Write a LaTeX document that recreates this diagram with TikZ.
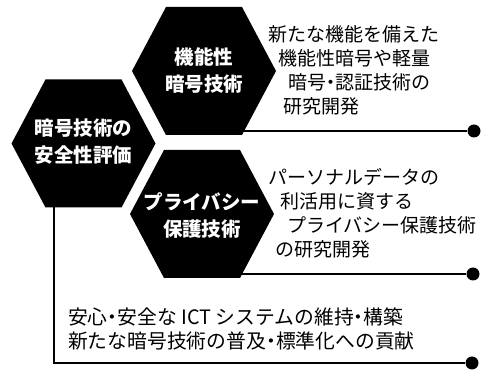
\documentclass[tikz,border=0pt]{standalone}
\usepackage{fontspec}
\setmainfont{Noto Sans CJK JP}
\usetikzlibrary{backgrounds,calc}
\newcommand{\nd}{\makebox[0.5em]{・}}
\newcommand{\hexpath}[1]{%
  \fill[black] ($(#1)+(-72,0)$) -- ($(#1)+(-38,-64)$) -- ($(#1)+(38,-64)$) --
    ($(#1)+(72,0)$) -- ($(#1)+(38,64)$) -- ($(#1)+(-38,64)$) -- cycle;}
\tikzset{
  hexlabel/.style={text=white, inner sep=0pt, align=center,
    font=\fontsize{19.5}{27}\selectfont\bfseries},
  desc/.style={anchor=base west, inner sep=0pt, font=\fontsize{19}{24}\selectfont},
  desclarge/.style={desc, font=\fontsize{19.8}{24}\selectfont},
  dotn/.style={circle, fill=black, minimum size=13pt, inner sep=0pt},
  link/.style={line width=1.6pt, black}
}
\begin{document}
\begin{tikzpicture}[x=1pt,y=-1pt]
\useasboundingbox (0,0) rectangle (483,387);

\coordinate (c1) at (204,71);
\coordinate (c2) at (83.5,143.5);
\coordinate (c3) at (202,214);
\hexpath{c1}
\hexpath{c2}
\hexpath{c3}

\node[hexlabel] (h1) at (c1) {機能性\\暗号技術};
\node[hexlabel] (h2) at ($(c2)+(0,-2)$) {暗号技術の\\安全性評価};
\node[hexlabel] (h3) at ($(c3)+(0,2)$) {プライバシー\\保護技術};

\node[dotn] (d1) at (474,131) {};
\node[dotn] (d2) at (473,274) {};
\node[dotn] (d3) at (472,363) {};

\coordinate (v3) at ($(c2)+(-29.5,0)$);
\begin{scope}[on background layer]
  \draw[link] (c1 |- d1) -- (d1);
  \draw[link] (c3 |- d2) -- (d2);
  \draw[link] (v3) |- (d3);
\end{scope}

\node[desc] (t1a) at (268,42) {新たな機能を備えた};
\node[desc] (t1b) at (278,66) {機能性暗号や軽量};
\node[desc] (t1c) at (288,90) {暗号\nd 認証技術の};
\node[desc] (t1d) at (283,114) {研究開発};

\node[desc] (t2a) at (268,185) {パーソナルデータの};
\node[desc] (t2b) at (280,209) {利活用に資する};
\node[desc] (t2c) at (287,233) {プライバシー保護技術};
\node[desc] (t2d) at (275,257) {の研究開発};

\node[desclarge] (t3a) at (68,325) {安心\nd 安全な ICT システムの維持\nd 構築};
\node[desclarge] (t3b) at (68,349) {新たな暗号技術の普及\nd 標準化への貢献};
\end{tikzpicture}
\end{document}
